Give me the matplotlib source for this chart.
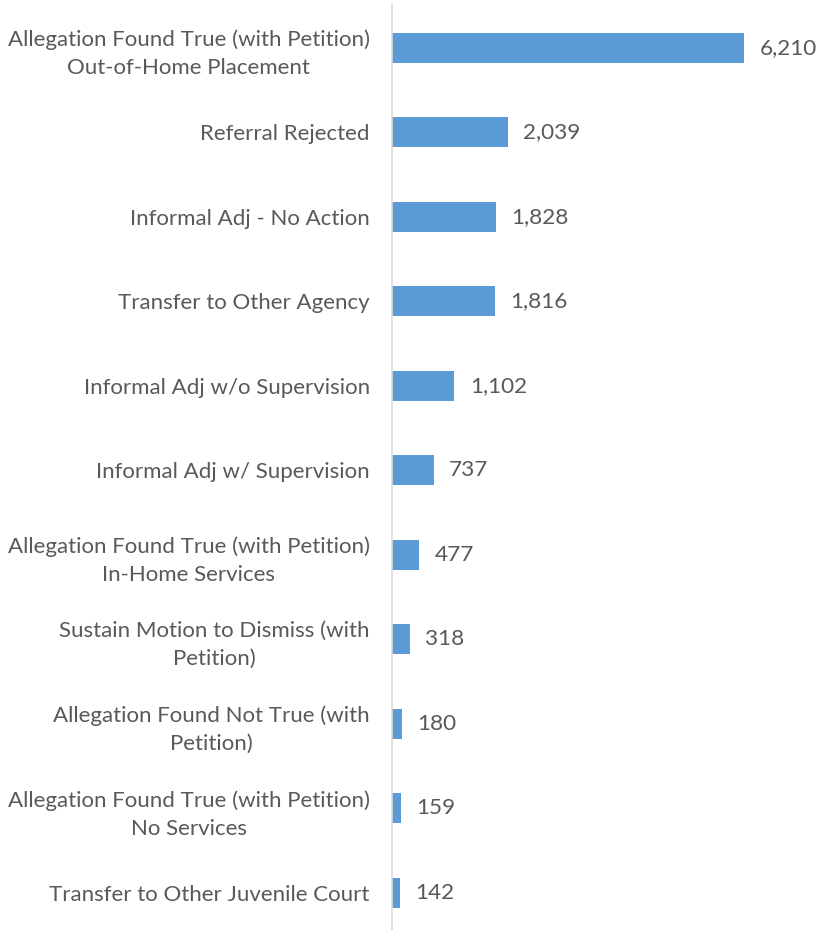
import matplotlib.pyplot as plt

# categories top to bottom
categories = [
    "Allegation Found True (with Petition)\nOut-of-Home Placement",
    "Referral Rejected",
    "Informal Adj - No Action",
    "Transfer to Other Agency",
    "Informal Adj w/o Supervision",
    "Informal Adj w/ Supervision",
    "Allegation Found True (with Petition)\nIn-Home Services",
    "Sustain Motion to Dismiss (with\nPetition)",
    "Allegation Found Not True (with\nPetition)",
    "Allegation Found True (with Petition)\nNo Services",
    "Transfer to Other Juvenile Court",
]
counts = [6210, 2039, 1828, 1816, 1102, 737, 477, 318, 180, 159, 142]

text_color = '#595959'
bar_color = '#5B9BD5'
plt.rcParams['font.family'] = ['Lato', 'DejaVu Sans']

fig = plt.figure(figsize=(8.17, 9.3), dpi=100)
ax = fig.add_axes([392 / 817, -5 / 930, 397 / 817, 929.5 / 930])

ypos = list(range(len(categories)))
bars = ax.barh(ypos, counts, height=0.355, color=bar_color)
ax.set_ylim(len(categories) - 0.5, -0.5)
ax.set_xlim(0, 7000)

# value labels after each bar
for bar, value in zip(bars, counts):
    ax.annotate(f'{value:,}', (bar.get_width(), bar.get_y() + bar.get_height() / 2),
                xytext=(11, 0), textcoords='offset points',
                ha='left', va='center', fontsize=16.2, color=text_color)

ax.set_yticks(ypos)
ax.set_yticklabels(categories, fontsize=16, color=text_color, linespacing=1.5)
for lbl in ax.get_yticklabels():
    lbl.set_multialignment('center')
ax.tick_params(axis='y', length=0, pad=16)
ax.set_xticks([])

for side in ['top', 'right', 'bottom']:
    ax.spines[side].set_visible(False)
ax.spines['left'].set_color('#D9D9D9')
ax.spines['left'].set_linewidth(1.2)

fig.savefig('out.png', dpi=100)
